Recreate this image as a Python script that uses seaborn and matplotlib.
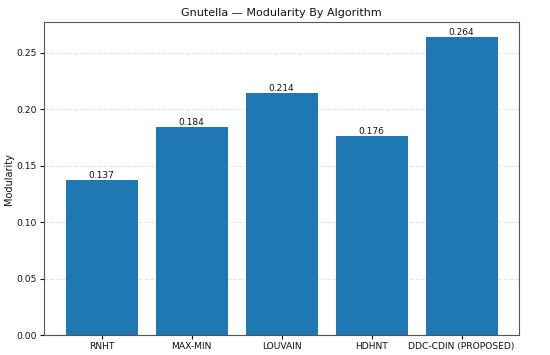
import matplotlib
matplotlib.use("Agg")
import matplotlib.pyplot as plt
import seaborn as sns
import pandas as pd

# Data
algorithms = ["RNHT", "MAX-MIN", "LOUVAIN", "HDHNT", "DDC-CDIN (PROPOSED)"]
modularity = [0.137, 0.184, 0.214, 0.176, 0.264]

df = pd.DataFrame({"algorithm": algorithms, "modularity": modularity})

sns.set_style("white")
plt.rcParams["font.family"] = ["DejaVu Sans"]
plt.rcParams["text.color"] = "#111111"
plt.rcParams["axes.labelcolor"] = "#111111"
plt.rcParams["xtick.color"] = "#111111"
plt.rcParams["ytick.color"] = "#111111"

fig, ax = plt.subplots(figsize=(5.5, 3.55), dpi=100)
sns.barplot(data=df, x="algorithm", y="modularity", color="#1f77b4",
            saturation=1, width=0.8, linewidth=0, ax=ax)

for i, v in enumerate(modularity):
    ax.text(i, v, f"{v:.3f}", ha="center", va="bottom", fontsize=6.5)

ax.set_xlim(-0.64, len(algorithms) - 0.36)
ax.set_ylim(0, max(modularity) * 1.05)
ax.set_yticks([0, 0.05, 0.10, 0.15, 0.20, 0.25])
ax.set_yticklabels([f"{t:.2f}" for t in ax.get_yticks()])
ax.set_title("Gnutella — Modularity By Algorithm", fontsize=8, pad=4)
ax.set_xlabel("")
ax.set_ylabel("Modularity", fontsize=7, labelpad=2)
ax.tick_params(axis="both", labelsize=6.6, length=3, pad=2, left=True, bottom=True)
ax.grid(axis="y", linestyle="--", alpha=0.5)
ax.set_axisbelow(True)
for s in ax.spines.values():
    s.set_color("#555555")
    s.set_linewidth(0.8)

fig.subplots_adjust(left=0.08, right=0.944, top=0.938, bottom=0.056)
fig.savefig("out.png", dpi=100)
